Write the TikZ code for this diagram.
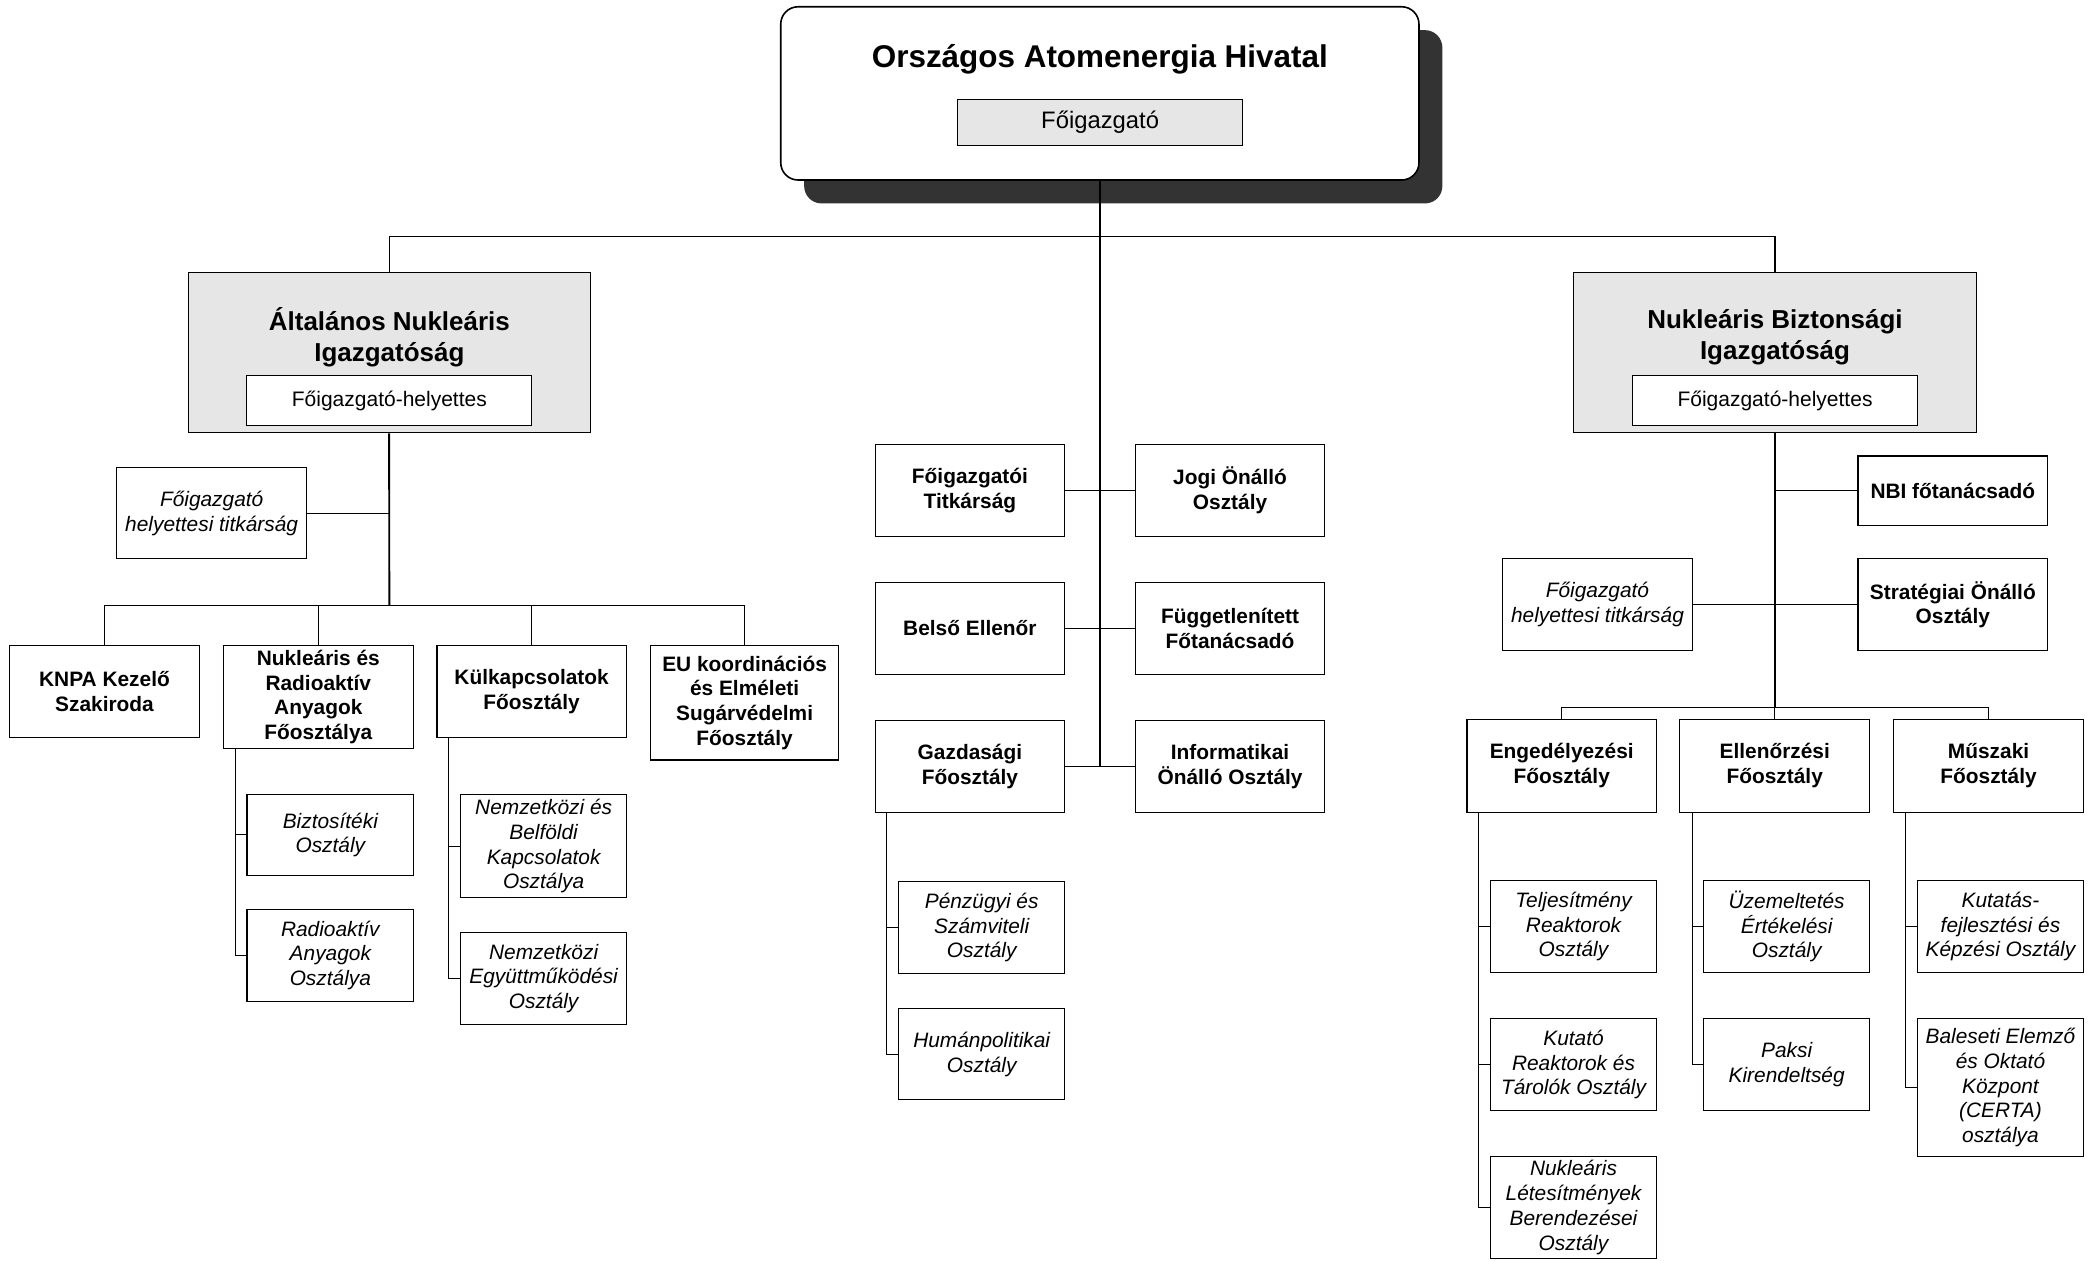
\documentclass[tikz,border=0pt]{standalone}
\usepackage{fontspec}
\setmainfont{Liberation Sans}
\usetikzlibrary{calc,shadows}
\definecolor{boxgray}{RGB}{230,230,230}
\newcommand{\mybf}{\fontsize{15.6}{18.5}\selectfont\bfseries}
\newcommand{\myit}{\fontsize{15.6}{18.5}\selectfont\itshape}
\begin{document}
\begin{tikzpicture}[x=1pt,y=-1pt,
  bx/.style={draw=black, line width=0.8pt, fill=white, align=center, inner sep=0pt, font=\mybf},
  sbx/.style={bx, font=\myit},
  wh/.style 2 args={minimum width=#1pt, minimum height=#2pt},
  ln/.style={line width=0.8pt},
  trunk/.style={line width=1.4pt},
  gbox/.style={draw=black, line width=0.8pt, fill=boxgray, inner sep=0pt},
  gtitle/.style={align=center, inner sep=0pt, font=\fontsize{19.4}{22.6}\selectfont\bfseries},
  ibox/.style={draw=black, line width=0.8pt, fill=white, inner sep=0pt, font=\fontsize{15.7}{18.5}\selectfont}
]
\useasboundingbox (0,0) rectangle (1568,942);

% ---- top box
\node[draw=black, line width=1.2pt, fill=white, rounded corners=13pt, wh={477}{129.5},
  drop shadow={shadow xshift=17.5pt, shadow yshift=-17.5pt, fill=black!80, opacity=1}] (top) at (822,69.8) {};
\node[anchor=base, inner sep=0pt, font=\fontsize{23.5}{26}\selectfont\bfseries] (toptitle) at (822,50.5) {Országos Atomenergia Hivatal};
\node[draw=black, line width=0.8pt, fill=boxgray, inner sep=0pt, wh={213}{34.7}, font=\fontsize{17.8}{20}\selectfont] (fig) at (822.2,91.5) {Főigazgató};

% ---- directorates
\node[gbox, wh={300.4}{120.1}] (lgray) at (290.8,263.5) {};
\node[gtitle] (ltitle) at (291,252) {Általános Nukleáris\\Igazgatóság};
\node[ibox, wh={213}{37.3}] (linner) at (291,299.5) {Főigazgató-helyettes};

\node[gbox, wh={301}{120.1}] (rgray) at (1326.6,263.5) {};
\node[gtitle] (rtitle) at (1326.6,252) {Nukleáris Biztonsági\\Igazgatóság};
\node[ibox, wh={213}{37.3}] (rinner) at (1326.6,299.5) {Főigazgató-helyettes};

% ---- left branch
\node[sbx, wh={141.8}{68.3}] (ltit) at (158.2,383.6) {Főigazgató\\helyettesi titkárság};
\node[bx, wh={141.4}{68.7}] (knpa) at (78.1,517) {KNPA Kezelő\\Szakiroda};
\node[bx, wh={142.2}{76.7}] (nra) at (237.9,521) {Nukleáris és\\Radioaktív\\Anyagok\\Főosztálya};
\node[bx, wh={141.4}{68.7}] (kulk) at (397.3,517) {Külkapcsolatok\\Főosztály};
\node[bx, wh={141}{85.4}] (eu) at (556.5,525.3) {EU koordinációs\\és Elméleti\\Sugárvédelmi\\Főosztály};
\node[sbx, wh={124.6}{60.3}] (bizt) at (246.9,624) {Biztosítéki\\Osztály};
\node[sbx, wh={124.6}{68.8}] (radio) at (246.9,714) {Radioaktív\\Anyagok\\Osztálya};
\node[sbx, wh={124.1}{77.2}] (nbk) at (406.3,632.5) {Nemzetközi és\\Belföldi\\Kapcsolatok\\Osztálya};
\node[sbx, wh={124.1}{68.8}] (nee) at (406.3,731.2) {Nemzetközi\\Együttműködési\\Osztály};

% ---- central
\node[bx, wh={141.7}{68.6}] (fgt) at (724.9,366.4) {Főigazgatói\\Titkárság};
\node[bx, wh={141.5}{68.6}] (jogi) at (919.3,366.4) {Jogi Önálló\\Osztály};
\node[bx, wh={141.7}{69.2}] (belso) at (724.9,469.7) {Belső Ellenőr};
\node[bx, wh={141.5}{69.2}] (fugg) at (919.3,469.7) {Függetlenített\\Főtanácsadó};
\node[bx, wh={141.7}{68.9}] (gazd) at (724.9,572.9) {Gazdasági\\Főosztály};
\node[bx, wh={141.5}{68.9}] (info) at (919.3,572.9) {Informatikai\\Önálló Osztály};
\node[sbx, wh={124}{68.6}] (penz) at (733.7,693.3) {Pénzügyi és\\Számviteli\\Osztály};
\node[sbx, wh={124}{67.9}] (human) at (733.7,787.9) {Humánpolitikai\\Osztály};

% ---- right branch
\node[bx, wh={141.8}{51.6}] (nbi) at (1459.5,366.6) {NBI főtanácsadó};
\node[bx, wh={141.8}{68.5}] (strat) at (1459.5,452) {Stratégiai Önálló\\Osztály};
\node[sbx, wh={141.4}{68.5}] (rtit) at (1193.9,452) {Főigazgató\\helyettesi titkárság};
\node[bx, wh={141.6}{69}] (eng) at (1167.2,572.4) {Engedélyezési\\Főosztály};
\node[bx, wh={142.2}{69}] (ell) at (1326.4,572.4) {Ellenőrzési\\Főosztály};
\node[bx, wh={141.9}{69}] (musz) at (1486.2,572.4) {Műszaki\\Főosztály};
\node[sbx, wh={124}{68.7}] (telj) at (1176,692.5) {Teljesítmény\\Reaktorok\\Osztály};
\node[sbx, wh={124}{68.5}] (kutr) at (1176,795.7) {Kutató\\Reaktorok és\\Tárolók Osztály};
\node[sbx, wh={124}{76}] (nlb) at (1176,902.5) {Nukleáris\\Létesítmények\\Berendezései\\Osztály};
\node[sbx, wh={124.5}{68.7}] (uzem) at (1335.3,692.5) {Üzemeltetés\\Értékelési\\Osztály};
\node[sbx, wh={124.5}{68.5}] (paksi) at (1335.3,795.7) {Paksi\\Kirendeltség};
\node[sbx, wh={124}{68.7}] (kutf) at (1495.1,692.5) {Kutatás-\\fejlesztési és\\Képzési Osztály};
\node[sbx, wh={124}{102.7}] (bal) at (1495.1,812.8) {Baleseti Elemző\\és Oktató\\Központ\\(CERTA)\\osztálya};

% ---- connectors
\coordinate (lj) at (291,452.2);
\coordinate (rj) at (1326.6,529.1);

\draw[trunk] (top.south) -- (top.south |- gazd.east);
\draw[ln] (lgray.north) -- ++(0,-26.3) -| (rgray.north);
\draw[ln] (fgt.east) -- (jogi.west);
\draw[ln] (belso.east) -- (fugg.west);
\draw[ln] (gazd.east) -- (info.west);

\draw[trunk] (lgray.south) -- (lj);
\draw[ln] (ltit.east) -- (ltit.east -| lj);
\draw[ln] (knpa.north) |- (lj);
\draw[ln] (eu.north) |- (lj);
\draw[ln] (nra.north) -- (nra.north |- lj);
\draw[ln] (kulk.north) -- (kulk.north |- lj);
\draw[ln] ($(nra.south west)+(9.3,0)$) |- (radio.west);
\draw[ln] ($(nra.south west)+(9.3,0)$) |- (bizt.west);
\draw[ln] ($(kulk.south west)+(8.7,0)$) |- (nee.west);
\draw[ln] ($(kulk.south west)+(8.7,0)$) |- (nbk.west);

\draw[ln] ($(gazd.south west)+(8.7,0)$) |- (human.west);
\draw[ln] ($(gazd.south west)+(8.7,0)$) |- (penz.west);

\draw[trunk] (rgray.south) -- (rj);
\draw[ln] (nbi.west) -- (nbi.west -| rj);
\draw[ln] (rtit.east) -- (strat.west);
\draw[ln] (eng.north) |- (rj);
\draw[ln] (musz.north) |- (rj);
\draw[ln] (ell.north) -- (ell.north |- rj);
\draw[ln] ($(eng.south west)+(8.8,0)$) |- (nlb.west);
\draw[ln] ($(eng.south west)+(8.8,0)$) |- (kutr.west);
\draw[ln] ($(eng.south west)+(8.8,0)$) |- (telj.west);
\draw[ln] ($(ell.south west)+(9.7,0)$) |- (paksi.west);
\draw[ln] ($(ell.south west)+(9.7,0)$) |- (uzem.west);
\draw[ln] ($(musz.south west)+(9.1,0)$) |- (bal.west);
\draw[ln] ($(musz.south west)+(9.1,0)$) |- (kutf.west);
\end{tikzpicture}
\end{document}
